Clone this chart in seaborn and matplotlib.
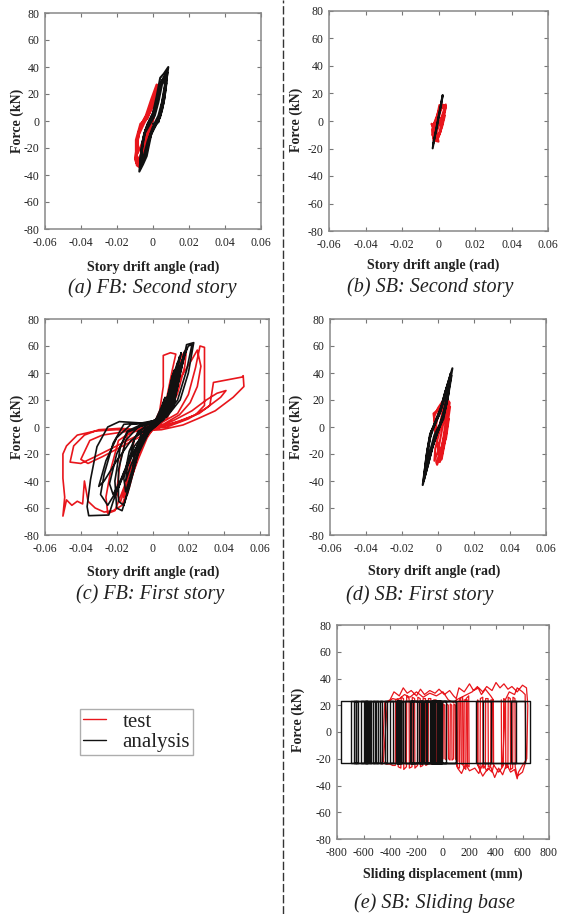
import pandas as pd
import matplotlib
matplotlib.use('Agg')
import matplotlib.pyplot as plt
from matplotlib.lines import Line2D
import seaborn as sns

# --- DATA: (drift angle [rad] or displacement [mm], force [kN]) ---
# (a) FB: second story
A_TEST = [(0.000, 0), (0.002, 14), (0.003, 27), (0.001, 20), (-0.002, 8), (-0.005, 1), (-0.007, -4),
          (-0.009, -18), (-0.009, -33), (-0.007, -28), (-0.004, -14), (-0.001, -3), (0.001, 6),
          (0.003, 24), (0.002, 27), (-0.001, 16), (-0.004, 4), (-0.006, -1), (-0.008, -10),
          (-0.010, -28), (-0.009, -32), (-0.006, -22), (-0.003, -8), (0.000, 2), (0.002, 12),
          (0.003, 22), (0.001, 18), (-0.002, 6), (-0.005, 0), (-0.008, -8), (-0.009, -26),
          (-0.007, -30), (-0.004, -16), (-0.001, -4),
          (0.000, 4), (0.002, 20), (0.0025, 26), (0.000, 14), (-0.003, 2), (-0.007, -2),
          (-0.0095, -14), (-0.0095, -30), (-0.008, -34), (-0.006, -24), (-0.004, -12),
          (-0.002, -2), (0.001, 10), (0.002, 18), (-0.001, 8), (-0.005, -2), (-0.0085, -12),
          (-0.0085, -24), (-0.006, -16), (-0.003, -4)]
A_ANALYSIS = [(0.000, -2), (0.003, -1), (0.005, 10), (0.007, 25), (0.0085, 40), (0.006, 35),
              (0.004, 32), (0.002, 18), (0.000, 6), (-0.003, -2), (-0.005, -10), (-0.0065, -22),
              (-0.0076, -37.5), (-0.0055, -32), (-0.0035, -26), (-0.001, -10), (0.002, -2),
              (0.004, 6), (0.006, 20), (0.0075, 32), (0.005, 27), (0.003, 14), (0.001, 4),
              (-0.002, -3), (-0.0045, -9), (-0.006, -20), (-0.0068, -31), (-0.005, -27),
              (-0.003, -18), (0.000, -6), (0.003, 0), (0.005, 8), (0.0065, 18), (0.008, 36),
              (0.005, 30), (0.0025, 16), (0.000, 5), (-0.0025, -2), (-0.0045, -8), (-0.006, -16),
              (-0.007, -29), (-0.005, -25), (-0.003, -15), (0.000, -4), (0.003, 4), (0.005, 14),
              (0.007, 30), (0.0078, 36), (0.005, 30), (0.003, 20), (0.001, 8), (-0.002, 0),
              (-0.004, -6), (-0.0055, -14), (-0.007, -32), (-0.0072, -35), (-0.004, -24),
              (-0.0015, -10), (0.001, -3), (0.004, 3), (0.006, 14), (0.0075, 28)]

# (b) SB: second story
B_TEST = [(0.000, -3), (0.002, 4), (0.004, 12), (0.003, 11), (0.001, 8), (-0.001, 2), (-0.003, -6),
          (-0.0028, -14), (0.000, -15), (-0.001, -8), (0.001, 0), (0.003, 6), (0.0035, 11),
          (0.0015, 12), (-0.0005, 5), (-0.0025, -2), (-0.0035, -10), (-0.002, -13), (0.000, -12),
          (0.002, -3), (0.004, 10), (0.0005, 11.6), (-0.001, 2), (-0.003, -4), (-0.0038, -2),
          (-0.001, -14), (0.001, -6), (0.003, 6), (0.003, 11), (0.0015, 9), (-0.0005, 0),
          (-0.002, -8), (-0.003, -12), (-0.001, -14), (0.001, -8), (0.002, 0), (0.0035, 8),
          (0.004, 11), (0.002, 12), (0.000, 6), (-0.002, -3), (-0.0035, -6), (-0.0025, -12),
          (0.0005, -10), (0.002, -4), (0.0035, 4)]
B_ANALYSIS = [(-0.0032, -19.9), (-0.002, -11), (-0.001, -4), (0.000, 3), (0.001, 10), (0.0023, 18.9),
              (0.0015, 12), (0.000, 2), (-0.001, -5), (-0.0025, -14), (-0.003, -17)]

# (c) FB: first story
C_TEST = [(0.000, 0), (0.004, 12), (0.006, 30), (0.006, 53), (0.010, 55), (0.013, 54), (0.011, 42),
          (0.008, 22), (0.004, 8), (-0.004, 0), (-0.010, -8), (-0.013, -30), (-0.016, -52),
          (-0.014, -50), (-0.010, -30), (-0.005, -10), (0.000, -2),
          (0.007, 8), (0.012, 30), (0.016, 52), (0.019, 58), (0.018, 45), (0.014, 25), (0.008, 6),
          (0.000, 1), (-0.010, -2), (-0.019, -10), (-0.023, -30), (-0.026, -52), (-0.025, -64),
          (-0.021, -62), (-0.016, -45), (-0.010, -22), (-0.003, -4),
          (0.006, 4), (0.014, 10), (0.020, 24), (0.024, 44), (0.0265, 60), (0.029, 59), (0.029, 42),
          (0.029, 16), (0.024, 9), (0.015, 4), (0.004, 0), (-0.008, -2), (-0.018, -4), (-0.028, -6),
          (-0.035, -10), (-0.040, -24), (-0.036, -27), (-0.028, -22), (-0.018, -15), (-0.008, -8),
          (0.002, -1),
          (0.012, 5), (0.022, 12), (0.030, 20), (0.036, 25), (0.041, 27), (0.038, 22), (0.030, 14),
          (0.020, 6), (0.008, 0), (-0.006, -2), (-0.018, -1), (-0.030, -2), (-0.038, -6),
          (-0.044, -14), (-0.046, -26), (-0.040, -27), (-0.032, -22), (-0.020, -14), (-0.008, -6),
          (0.004, 0),
          (0.010, 20), (0.015, 35), (0.022, 50), (0.025, 57), (0.027, 45), (0.025, 30), (0.021, 18),
          (0.015, 9), (0.006, 2), (-0.006, -1), (-0.014, -6), (-0.018, -25), (-0.020, -48),
          (-0.018, -56), (-0.014, -40), (-0.009, -18), (-0.002, -3),
          (0.016, 5), (0.026, 10), (0.032, 16), (0.034, 33), (0.042, 35), (0.050, 37), (0.0506, 38),
          (0.051, 30), (0.045, 22), (0.035, 12), (0.025, 6), (0.017, 1.5), (0.005, -2), (-0.008, -3),
          (-0.020, -2), (-0.032, -3), (-0.042, -6), (-0.048, -14), (-0.050, -20), (-0.050, -38),
          (-0.049, -52), (-0.050, -66), (-0.048, -54), (-0.045, -58), (-0.042, -55), (-0.039, -57),
          (-0.038, -40), (-0.036, -55), (-0.032, -60), (-0.027, -63), (-0.022, -62), (-0.017, -58),
          (-0.013, -42), (-0.008, -24), (-0.003, -8), (0.002, 2)]
C_ANALYSIS = [(0.000, 0), (0.004, 8), (0.007, 22), (0.005, 15), (0.001, 3), (-0.004, -2), (-0.008, -15),
              (-0.006, -10), (-0.002, -2),
              (0.003, 3), (0.008, 15), (0.011, 35), (0.012, 42), (0.009, 25), (0.004, 6), (-0.004, 1),
              (-0.010, -8), (-0.014, -30), (-0.015, -40), (-0.012, -28), (-0.006, -8),
              (0.002, 2), (0.009, 14), (0.013, 40), (0.016, 55), (0.014, 45), (0.010, 20), (0.004, 6),
              (-0.006, 2), (-0.014, -3), (-0.020, -20), (-0.024, -42), (-0.022, -50), (-0.018, -40),
              (-0.010, -14), (-0.003, -2),
              (0.005, 5), (0.012, 18), (0.016, 42), (0.019, 61), (0.023, 62.5), (0.020, 40),
              (0.0154, 20), (0.008, 7.6), (-0.003, 2.7), (-0.0185, 4), (-0.025, 0), (-0.031, -14.6),
              (-0.0346, -39), (-0.0365, -59), (-0.0356, -65.7), (-0.0244, -65.2), (-0.0217, -54),
              (-0.016, -34), (-0.0087, -14.6), (-0.0013, -1), (0.006, 5), (0.0117, 15), (0.0154, 40),
              (0.019, 58), (0.017, 50),
              (0.013, 30), (0.008, 10), (0.000, 3), (-0.012, 2), (-0.020, -8), (-0.026, -25),
              (-0.030, -44), (-0.027, -40), (-0.020, -25), (-0.012, -10), (-0.004, -2), (0.004, 4),
              (0.010, 12), (0.014, 30), (0.017, 52), (0.018, 56), (0.016, 45), (0.012, 25), (0.006, 8),
              (-0.004, 2), (-0.014, -4), (-0.018, -15), (-0.021, -40), (-0.020, -60), (-0.017, -62),
              (-0.013, -45), (-0.008, -20), (-0.002, -4), (0.004, 3), (0.009, 12), (0.012, 32),
              (0.014, 48), (0.012, 40), (0.007, 15), (0.000, 2), (-0.008, -3), (-0.013, -18),
              (-0.016, -38), (-0.015, -48), (-0.011, -30), (-0.005, -8), (0.002, 2), (0.007, 10),
              (0.010, 28), (0.011, 38), (0.008, 20), (0.002, 4), (-0.006, -4), (-0.010, -20),
              (-0.011, -30), (-0.008, -18), (-0.002, -3),
              (0.003, 2), (0.010, 14), (0.015, 45), (0.020, 60), (0.022, 61), (0.019, 42),
              (0.014, 20), (0.006, 6), (-0.006, 3), (-0.016, 2), (-0.022, -12), (-0.027, -35),
              (-0.029, -50), (-0.025, -58), (-0.019, -45), (-0.012, -22), (-0.004, -4), (0.005, 6),
              (0.011, 20), (0.013, 38), (0.015, 52), (0.013, 42), (0.009, 18), (0.002, 4),
              (-0.008, 0), (-0.015, -10), (-0.019, -32), (-0.019, -55), (-0.016, -58),
              (-0.012, -38), (-0.007, -14), (0.000, 0)]

# (d) SB: first story
D_TEST = [(0.000, -5), (0.002, 8), (0.004, 22.5), (0.0065, 18), (0.005, 5), (0.003, -10), (0.001, -20),
          (-0.001, -26), (-0.0005, -28), (0.001, -22), (0.003, -8), (0.0045, 6), (0.002, 15),
          (-0.0025, 10), (-0.001, -6), (0.0005, -20), (0.002, -24), (0.004, -10), (0.0067, 15),
          (0.004, 12), (0.001, -2), (-0.0015, -16), (-0.002, -25), (0.000, -18), (0.0025, 0),
          (0.005, 14), (0.006, 18), (0.003, 20), (0.000, 14), (-0.002, 8), (-0.0015, -4),
          (0.000, -15), (0.001, -26), (0.002, -22), (0.0035, -12), (0.005, 2), (0.0055, 12),
          (0.003, 18), (0.0005, 12), (-0.001, 2), (-0.0005, -12), (0.0015, -18), (0.0045, -8),
          (0.006, 6)]
D_ANALYSIS = [(0.000, -3), (0.002, 5), (0.005, 20), (0.008, 43.5), (0.005, 30), (0.002, 15), (-0.001, 5),
              (-0.0035, -3), (-0.006, -18), (-0.0085, -43), (-0.006, -30), (-0.003, -15), (0.000, -3),
              (0.0025, 6), (0.0045, 16), (0.0065, 33), (0.0045, 26), (0.0015, 12), (-0.0015, 3),
              (-0.004, -4), (-0.0055, -14), (-0.0075, -36), (-0.0055, -26), (-0.0025, -12),
              (0.0005, -1), (0.003, 8), (0.0055, 22), (0.0075, 38), (0.004, 26), (0.001, 10),
              (-0.002, 1), (-0.0045, -8), (-0.0065, -28), (-0.004, -16), (-0.002, -6), (0.001, 2),
              (0.003, 10), (0.005, 24), (0.0072, 40), (0.0045, 28), (0.0015, 14), (-0.0015, 4),
              (-0.0045, -6), (-0.0065, -22), (-0.008, -40), (-0.0055, -28), (-0.003, -14),
              (0.000, -2), (0.003, 6), (0.006, 26)]

# (e) SB: sliding base -- analysis is rigid-plastic friction, given by its reversal points
E_FRICTION = 23.5
E_REVERSALS = [0, 101, -12, 365, 252, 654, 302, 617, 516, 554, -63, 20, -93, -40, -163, -80,
               -239, -150, -289, -200, -352, -314, -345, -322, -402, -340, -440, -380, -478,
               -420, -503, -460, -528, -490, -553, -510, -591, -560, -585, -565, -580, -570,
               -621, -585, -654, -600, -671, -640, -691, -660, -772, -540, -556, -303, -320,
               -30, -85, -20, -75, -15, -60, -10, -88, -25, -80, 101, -180, -160, -250, -230,
               -340, -330, -350, -318, -348, -120, -140, -100, -130, -45, -70, -35, -55]
E_TEST = [(-460, -24), (-440, 22), (-400, 24), (-370, 30), (-330, 27), (-300, 33), (-270, 29),
          (-240, 31), (-200, 27), (-170, 32), (-140, 28), (-100, 31), (-60, 29), (-30, 32), (10, 28),
          (50, 31), (80, 27), (100, 25), (120, 33), (160, 30), (200, 36), (230, 31), (270, 33),
          (300, 30), (330, 34), (370, 31), (400, 37), (430, 33), (460, 36), (490, 32), (520, 34),
          (560, 30), (600, 35), (630, 33), (640, 20), (632, -20),
          (600, -25), (570, -30), (560, -35), (540, -28), (510, -30), (480, -24), (450, -32),
          (420, -27), (390, -34), (360, -26), (330, -29), (300, -24), (270, -31), (240, -27),
          (200, -29), (170, -24), (140, -31), (110, -27), (100, -20),
          (102, 24), (106, -26), (124, -27), (127, 25), (148, 26), (151, -25), (172, -28),
          (175, 25), (194, 27), (197, -26), (185, -25), (183, 24), (160, 24), (158, -24),
          (138, -24), (136, 24), (115, 23), (112, -22),
          (95, -20), (93, 20), (82, 21), (80, -20), (68, -21), (66, 20), (55, 21), (53, -21),
          (42, -20), (40, 20), (28, 21), (26, -21), (15, -20), (13, 20), (2, 21), (0, -20),
          (-12, -21), (-14, 22), (-30, 23), (-32, -23), (-50, -24), (-52, 24), (-70, 24),
          (-72, -24), (-90, -24), (-92, 25), (-110, 25), (-112, -24), (-130, -25), (-132, 25),
          (-150, 25), (-152, -25), (-170, -26), (-172, 25), (-190, 26), (-192, -25), (-212, -27),
          (-214, 25), (-232, 26), (-234, -26), (-254, -27), (-256, 25), (-274, 27), (-276, -26),
          (-296, -28), (-298, 25), (-316, 26), (-318, -27), (-338, -26), (-340, 25), (-358, 24),
          (-360, -25), (-380, -25), (-400, -24), (-430, -24), (-450, -22),
          (-420, 22), (-380, 25), (-340, 24), (-290, 28), (-250, 26), (-200, 30), (-150, 26),
          (-100, 29), (-50, 27), (0, 30), (40, 24), (80, 22), (100, 24), (140, 26), (180, 28),
          (220, 30), (260, 34), (290, 28), (320, 32), (360, 27), (380, 24), (382, -25), (370, -30),
          (340, -27), (300, -33), (280, -29), (260, -24),
          (262, 24), (264, -25), (280, -27), (282, 25), (300, 26), (302, -27), (320, -26),
          (322, 25), (340, 25), (342, -26), (360, -25), (362, 24), (376, 24), (378, -24),
          (420, -30), (450, -26), (470, 24), (500, 30), (540, 28), (560, 33), (600, 30), (620, 28),
          (625, -22), (600, -30), (560, -33), (545, -26), (543, 25), (528, 26), (526, -27),
          (510, -28), (508, 25), (492, 26), (490, -26), (474, -27), (472, 24), (458, 25),
          (456, -25), (442, -26), (440, 24)]

DRIFT_TICKS = [-0.06, -0.04, -0.02, 0, 0.02, 0.04, 0.06]
DRIFT_LABELS = ['-0.06', '-0.04', '-0.02', '0', '0.02', '0.04', '0.06']
DISP_TICKS = [-800, -600, -400, -200, 0, 200, 400, 600, 800]
DISP_LABELS = ['-800', '-600', '-400', '-200', '0', '200', '400', '600', '800']
FORCE_TICKS = [-80, -60, -40, -20, 0, 20, 40, 60, 80]
FORCE_LABELS = ['-80', '-60', '-40', '-20', '0', '20', '40', '60', '80']

RED = '#e8161c'
BLACK = '#111111'
W, H = 561, 914

sns.set_style('ticks')
plt.rcParams['font.family'] = ['Liberation Serif', 'DejaVu Serif']
plt.rcParams['axes.unicode_minus'] = False

fig = plt.figure(figsize=(W / 100, H / 100), dpi=100)


def px_axes(x0, y0, x1, y1):
    return fig.add_axes([x0 / W, 1 - y1 / H, (x1 - x0) / W, (y1 - y0) / H])


def draw(ax, pts, color, lw=1.0):
    df = pd.DataFrame(pts, columns=['x', 'F'])
    sns.lineplot(data=df, x='x', y='F', sort=False, estimator=None, color=color,
                 lw=lw, ax=ax, legend=False)


def style(ax, xlim, ticks, labels):
    ax.set_xlim(xlim)
    ax.set_ylim(-80, 80)
    ax.set_xticks(ticks)
    ax.set_xticklabels(labels)
    ax.set_yticks(FORCE_TICKS)
    ax.set_yticklabels(FORCE_LABELS)
    ax.tick_params(direction='in', top=True, right=True, length=3, width=0.8,
                   color='#777777', labelsize=8.5, labelcolor='#222222')
    ax.tick_params(axis='x', pad=6)
    ax.tick_params(axis='y', pad=4)
    for s in ax.spines.values():
        s.set_color('#888888')
        s.set_linewidth(1.1)
    ax.set_xlabel('')
    ax.set_ylabel('')


def text_px(x, y, s, **kw):
    fig.text(x / W, 1 - y / H, s, ha='center', va='center', color='#222222', **kw)


panels = [
    # rect (px), test, analysis, line width, xlim, ticks, labels, xlabel, caption, positions
    ((45, 13, 261, 229), A_TEST, A_ANALYSIS, 1.5, (-0.06, 0.06), DRIFT_TICKS, DRIFT_LABELS,
     'Story drift angle (rad)', '(a) FB: Second story', (153, 267), (152, 288), (17, 121)),
    ((329, 11, 548, 231), B_TEST, B_ANALYSIS, 1.5, (-0.06, 0.06), DRIFT_TICKS, DRIFT_LABELS,
     'Story drift angle (rad)', '(b) SB: Second story', (433, 265), (430, 287), (296, 120)),
    ((45, 319, 269, 535), C_TEST, C_ANALYSIS, 1.2, (-0.06, 0.065), DRIFT_TICKS, DRIFT_LABELS,
     'Story drift angle (rad)', '(c) FB: First story', (153, 572), (150, 594), (17, 427)),
    ((330, 319, 546, 535), D_TEST, D_ANALYSIS, 1.5, (-0.06, 0.06), DRIFT_TICKS, DRIFT_LABELS,
     'Story drift angle (rad)', '(d) SB: First story', (434, 571), (420, 595), (296, 427)),
]

for rect, test, ana, lw, xlim, ticks, labels, xlab, cap, xl_pos, cap_pos, yl_pos in panels:
    ax = px_axes(*rect)
    draw(ax, test, RED, lw)
    draw(ax, ana, BLACK, lw)
    style(ax, xlim, ticks, labels)
    text_px(*xl_pos, xlab, fontsize=10, fontweight='bold')
    text_px(*cap_pos, cap, fontsize=14.5, fontstyle='italic')
    text_px(*yl_pos, 'Force (kN)', fontsize=10, fontweight='bold', rotation=90)

# (e) sliding base
e_analysis = []
for d0, d1 in zip(E_REVERSALS[:-1], E_REVERSALS[1:]):
    f = E_FRICTION if d1 > d0 else -E_FRICTION
    e_analysis += [(d0, f), (d1, f)]

ax_e = px_axes(337, 625, 549, 839)
draw(ax_e, E_TEST, RED, lw=0.9)
draw(ax_e, e_analysis, BLACK, lw=1.0)
style(ax_e, (-800, 800), DISP_TICKS, DISP_LABELS)
text_px(443, 874, 'Sliding displacement (mm)', fontsize=10, fontweight='bold')
text_px(434, 903, '(e) SB: Sliding base', fontsize=14.5, fontstyle='italic')
text_px(298, 720, 'Force (kN)', fontsize=10, fontweight='bold', rotation=90)

# legend
handles = [Line2D([], [], color=RED, lw=1.0), Line2D([], [], color=BLACK, lw=1.0)]
leg = fig.legend(handles, ['test', 'analysis'], loc='upper left',
                 bbox_to_anchor=(80 / W, 1 - 709 / H), fontsize=15, frameon=True,
                 fancybox=False, handlelength=1.1, handletextpad=0.8, borderpad=0.15,
                 labelspacing=0.05, borderaxespad=0)
leg.get_frame().set_edgecolor('#999999')
leg.get_frame().set_linewidth(1.0)
for t in leg.get_texts():
    t.set_color('#222222')

# dashed separator
fig.add_artist(Line2D([283 / W, 283 / W], [0, 1], transform=fig.transFigure,
                      color='#333333', lw=1.0, linestyle=(0, (6, 2))))

fig.savefig('out.png', dpi=100)
